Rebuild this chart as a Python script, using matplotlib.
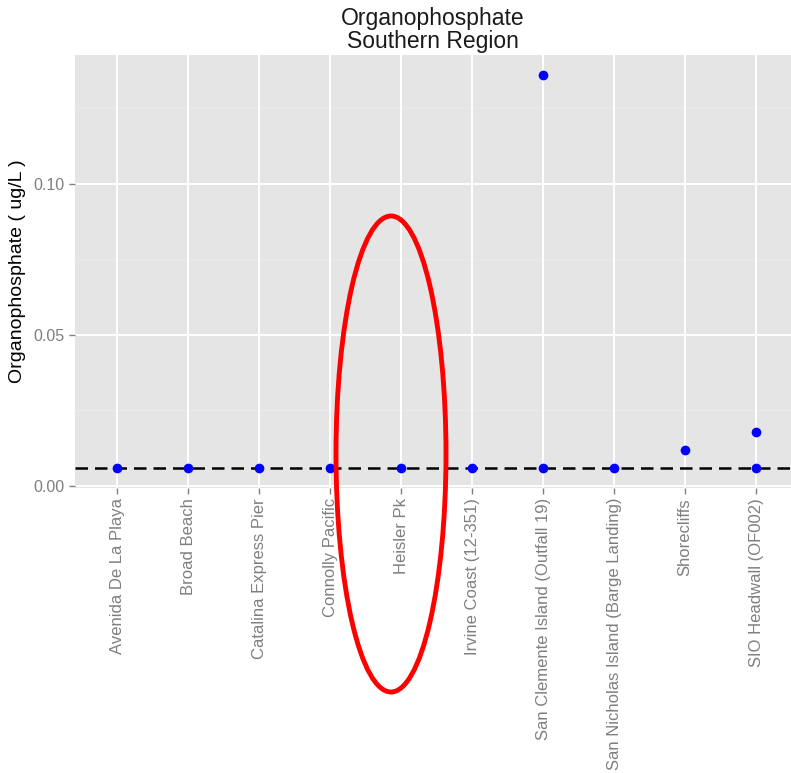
import matplotlib.pyplot as plt
from matplotlib.patches import Ellipse

plt.rcParams['font.family'] = ['Liberation Sans', 'DejaVu Sans']

# sites (x axis order)
sites = ['Avenida De La Playa', 'Broad Beach', 'Catalina Express Pier',
         'Connolly Pacific', 'Heisler Pk', 'Irvine Coast (12-351)',
         'San Clemente Island (Outfall 19)', 'San Nicholas Island (Barge Landing)',
         'Shorecliffs', 'SIO Headwall (OF002)']

# measured points (site, value)
point_sites = ['Avenida De La Playa', 'Broad Beach', 'Catalina Express Pier',
               'Connolly Pacific', 'Heisler Pk', 'Irvine Coast (12-351)',
               'San Clemente Island (Outfall 19)', 'San Clemente Island (Outfall 19)',
               'San Nicholas Island (Barge Landing)', 'Shorecliffs',
               'SIO Headwall (OF002)', 'SIO Headwall (OF002)']
point_vals = [0.006, 0.006, 0.006, 0.006, 0.006, 0.006,
              0.006, 0.136, 0.006, 0.012, 0.006, 0.0178]

threshold = 0.006
yticks = [0.00, 0.05, 0.10]
ytick_labels = ['0.00', '0.05', '0.10']

W, H = 791, 773
fig = plt.figure(figsize=(W / 100, H / 100), dpi=100)
ax = fig.add_axes([74.5 / W, (H - 487.5) / H, (W - 74.5) / W, (487.5 - 55) / H])
ax.set_facecolor('#e5e5e5')

xpos = {s: i + 1 for i, s in enumerate(sites)}
px = [xpos[s] for s in point_sites]

ax.set_xlim(0.4, 10.49)
ax.set_ylim(-0.0005, 0.1425)

# grid (ggplot style)
for v in [0.025, 0.075, 0.125]:
    ax.axhline(v, color='#ebebeb', lw=0.6, zorder=0)
for v in yticks:
    ax.axhline(v, color='white', lw=1.4, zorder=1)
for i in range(1, len(sites) + 1):
    ax.axvline(i, color='white', lw=1.4, zorder=1)

ax.axhline(threshold, color='black', lw=1.8, ls=(0, (5, 2.8)), zorder=2)
ax.plot(px, point_vals, 'o', color='#0000ff', markersize=7, markeredgewidth=0, zorder=3)

for sp in ax.spines.values():
    sp.set_visible(False)

ax.set_xticks(range(1, len(sites) + 1))
ax.set_xticklabels(sites, rotation=90, fontsize=12)
ax.set_yticks(yticks)
ax.set_yticklabels(ytick_labels, fontsize=11.5)
ax.tick_params(axis='both', colors='#7f7f7f', length=4, width=1)
for lab in ax.get_xticklabels() + ax.get_yticklabels():
    lab.set_color('#7f7f7f')

ax.set_ylabel('Organophosphate ( ug/L )', fontsize=14, color='black', labelpad=5)

fig.text(433 / W, 1 - 30 / H, 'Organophosphate\nSouthern Region', ha='center', va='center',
         fontsize=16.5, color='#1a1a1a', linespacing=1.05)

# red annotation ellipse
ell = Ellipse((391 / W, 1 - 454 / H), 110 / W, 476 / H, transform=fig.transFigure,
              fill=False, edgecolor='#ff0000', lw=3.5, zorder=10)
fig.patches.append(ell)

fig.savefig('out.png', dpi=100)
